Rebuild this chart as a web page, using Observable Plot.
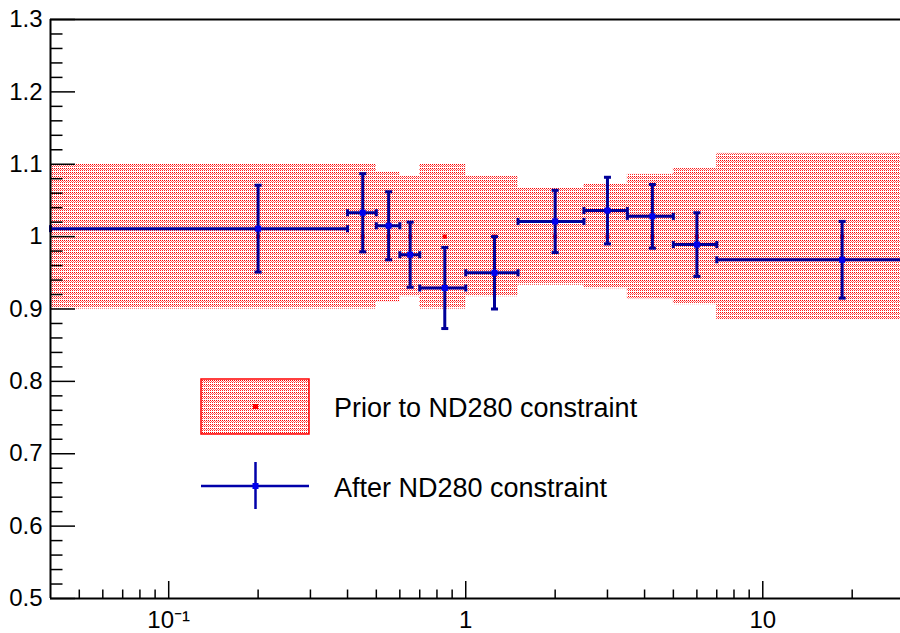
<!DOCTYPE html>
<html><head><meta charset="utf-8">
<script src="https://cdn.jsdelivr.net/npm/d3@7"></script>
<script src="https://cdn.jsdelivr.net/npm/@observablehq/plot@0.6"></script>
<style>
html,body{margin:0;padding:0;background:#fff;overflow:hidden;}
#wrap{position:relative;width:900px;height:633px;overflow:hidden;}
#wrap svg{max-width:none !important;}
#legend{position:absolute;left:0;top:0;pointer-events:none;}
</style></head><body>
<svg width="0" height="0" style="position:absolute">
  <defs>
    <pattern id="rootHatch" width="2" height="4" patternUnits="userSpaceOnUse">
      <rect x="0" y="0" width="1" height="1" fill="#ff0000"/>
      <rect x="1" y="1" width="1" height="1" fill="#ff0000" fill-opacity="0.6"/>
      <rect x="0" y="2" width="1" height="1" fill="#ff0000" fill-opacity="0.85"/>
    </pattern>
  </defs>
</svg>
<div id="wrap"></div>
<script>
// ---- data ----
const binLow    = [0.0, 0.4, 0.5, 0.6, 0.7, 1.0, 1.5, 2.5, 3.5, 5.0, 7.0];
const binHigh   = [0.4, 0.5, 0.6, 0.7, 1.0, 1.5, 2.5, 3.5, 5.0, 7.0, 30];
const binCenter = [0.2, 0.45, 0.55, 0.65, 0.85, 1.25, 2.0, 3.0, 4.25, 6.0, 18.5];
const priorValue = [1, 1, 1, 1, 1, 1, 1, 1, 1, 1, 1];
const priorError = [0.100, 0.100, 0.090, 0.083, 0.100, 0.083, 0.067, 0.072, 0.086, 0.094, 0.115];
const postValue  = [1.011, 1.033, 1.015, 0.975, 0.929, 0.950, 1.021, 1.036, 1.028, 0.989, 0.968];
const postError  = [0.060, 0.054, 0.047, 0.045, 0.056, 0.050, 0.043, 0.046, 0.044, 0.044, 0.053];
const xMajorTicks  = [0.1, 1, 10];
const xMajorLabels = ["10\u207B\u00B9", "1", "10"];
const xMinorTicks  = [0.05, 0.06, 0.07, 0.08, 0.09, 0.2, 0.3, 0.4, 0.5, 0.6, 0.7, 0.8, 0.9, 2, 3, 4, 5, 6, 7, 8, 9, 20];
const yMajorTicks  = [0.5, 0.6, 0.7, 0.8, 0.9, 1, 1.1, 1.2, 1.3];
const yMinorTicks  = [0.52, 0.54, 0.56, 0.58, 0.62, 0.64, 0.66, 0.68, 0.72, 0.74, 0.76, 0.78,
                      0.82, 0.84, 0.86, 0.88, 0.92, 0.94, 0.96, 0.98, 1.02, 1.04, 1.06, 1.08,
                      1.12, 1.14, 1.16, 1.18, 1.22, 1.24, 1.26, 1.28];
const xDomain = [0.04, 30];
const yDomain = [0.5, 1.3];
const legendLabels = ["Prior to ND280 constraint", "After ND280 constraint"];

// ---- build ----
const prior = binCenter.map((c, i) => ({c, lo: binLow[i], hi: binHigh[i], v: priorValue[i], e: priorError[i]}));
const post  = binCenter.map((c, i) => ({c, lo: binLow[i], hi: binHigh[i], v: postValue[i], e: postError[i]}));
const clampLo = d => Math.max(d.lo, xDomain[0]);
const blue = "#000099";
const capH = {draw(ctx) { ctx.moveTo(-3.5, 0); ctx.lineTo(3.5, 0); }};
const capV = {draw(ctx) { ctx.moveTo(0, -3.5); ctx.lineTo(0, 3.5); }};

const chart = Plot.plot({
  width: 904, height: 633,
  marginLeft: 50, marginRight: 0, marginTop: 19, marginBottom: 35,
  style: {fontFamily: "'Liberation Sans', Arial, Helvetica, sans-serif", fontSize: "24px", background: "white", color: "black", overflow: "visible", maxWidth: "none"},
  x: {type: "log", domain: xDomain},
  y: {domain: yDomain},
  marks: [
    Plot.rect(prior, {x1: clampLo, x2: "hi", y1: d => d.v - d.e, y2: d => d.v + d.e, fill: "url(#rootHatch)"}),
    Plot.dot(prior, {x: "c", y: "v", symbol: "square", r: 2.3, fill: "#ff0000"}),
    Plot.ruleY(post, {y: "v", x1: clampLo, x2: "hi", stroke: blue, strokeWidth: 3}),
    Plot.ruleX(post, {x: "c", y1: d => d.v - d.e, y2: d => d.v + d.e, stroke: blue, strokeWidth: 3}),
    Plot.dot(post, {x: "c", y: d => d.v + d.e, symbol: capH, fill: "none", stroke: blue, strokeWidth: 3}),
    Plot.dot(post, {x: "c", y: d => d.v - d.e, symbol: capH, fill: "none", stroke: blue, strokeWidth: 3}),
    Plot.dot(post, {x: clampLo, y: "v", symbol: capV, fill: "none", stroke: blue, strokeWidth: 3}),
    Plot.dot(post, {x: "hi", y: "v", symbol: capV, fill: "none", stroke: blue, strokeWidth: 3}),
    Plot.dot(post, {x: "c", y: "v", symbol: "square", r: 3.4, fill: "#0000ee"}),
    // axes (ROOT style: ticks inside)
    Plot.axisY(yMajorTicks, {tickSize: -25, tickFormat: () => "", label: null, strokeWidth: 1.5}),
    Plot.axisY(yMinorTicks, {tickSize: -12.5, tickFormat: () => "", label: null, strokeWidth: 1.5}),
    Plot.axisY(yMajorTicks, {tickSize: 0, tickPadding: 8, tickFormat: d => String(d), label: null}),
    Plot.axisX(xMajorTicks, {tickSize: -17, tickFormat: () => "", label: null, strokeWidth: 1.5}),
    Plot.axisX(xMinorTicks, {tickSize: -8.5, tickFormat: () => "", label: null, strokeWidth: 1.5}),
    Plot.axisX(xMajorTicks, {tickSize: 0, tickPadding: 12, tickFormat: d => xMajorLabels[xMajorTicks.indexOf(d)], label: null}),
    Plot.ruleY([yDomain[1]], {stroke: "black", strokeWidth: 2}),
    Plot.ruleY([yDomain[0]], {stroke: "black", strokeWidth: 2}),
    Plot.ruleX([xDomain[0]], {stroke: "black", strokeWidth: 2})
  ]
});
const wrap = document.getElementById("wrap");
wrap.appendChild(chart);

// ---- legend (ROOT TLegend inside the frame) ----
const leg = d3.select(wrap).append("svg").attr("id", "legend").attr("width", 900).attr("height", 633)
  .attr("font-family", "'Liberation Sans', Arial, Helvetica, sans-serif");
leg.append("rect").attr("x", 201).attr("y", 379).attr("width", 108).attr("height", 55)
  .attr("fill", "url(#rootHatch)").attr("stroke", "#ff0000").attr("stroke-width", 1.5);
leg.append("rect").attr("x", 253).attr("y", 404).attr("width", 5).attr("height", 5).attr("fill", "#ff0000");
leg.append("line").attr("x1", 201).attr("x2", 309).attr("y1", 486).attr("y2", 486).attr("stroke", "#0000aa").attr("stroke-width", 2.5);
leg.append("line").attr("x1", 255.5).attr("x2", 255.5).attr("y1", 462).attr("y2", 509).attr("stroke", "#0000aa").attr("stroke-width", 2.5);
leg.append("rect").attr("x", 252.5).attr("y", 483).attr("width", 6).attr("height", 6).attr("fill", "#0000ee");
leg.append("text").attr("x", 334).attr("y", 417).attr("font-size", 27).text(legendLabels[0]);
leg.append("text").attr("x", 334).attr("y", 497).attr("font-size", 27).text(legendLabels[1]);
</script>
</body></html>
